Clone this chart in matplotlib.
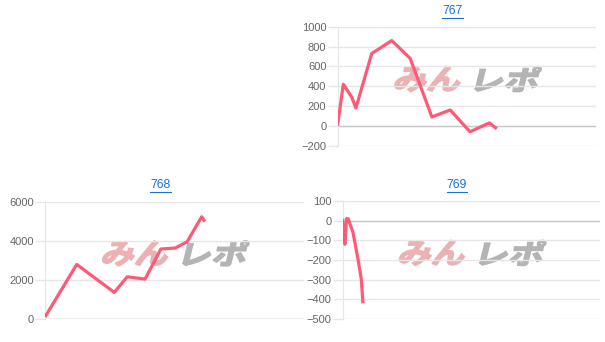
import matplotlib
matplotlib.use("Agg")
import matplotlib.pyplot as plt
import numpy as np
from matplotlib.textpath import TextPath
from matplotlib.font_manager import FontProperties
from matplotlib.patches import PathPatch
from matplotlib.transforms import Affine2D
from matplotlib.lines import Line2D

# game count on x, coin difference on y
games_767 = [0, 180, 440, 570, 1060, 1680, 2250, 2920, 3490, 4100, 4700, 4930]
diff_767 = [0, 420, 290, 180, 730, 860, 680, 90, 160, -60, 30, -30]

games_768 = [0, 980, 2140, 2540, 3090, 3580, 4020, 4390, 4840, 4940]
diff_768 = [100, 2790, 1360, 2160, 2040, 3580, 3630, 3950, 5230, 4980]

games_769 = [0, 40, 70, 120, 170, 320, 480, 580, 630]
diff_769 = [10, -100, -120, 10, 10, -60, -200, -300, -420]

titles = ["767", "768", "769"]
yticks_767 = [-200, 0, 200, 400, 600, 800, 1000]
yticks_768 = [0, 2000, 4000, 6000]
yticks_769 = [-500, -400, -300, -200, -100, 0, 100]

W, H = 605, 342
LINE = "#fe5a77"
GRID = "#e6e6e6"
ZERO = "#c8c8c8"

fig = plt.figure(figsize=(W / 100, H / 100), dpi=100)


def px_axes(l, t, r, b):
    return fig.add_axes([l / W, 1 - b / H, (r - l) / W, (b - t) / H])


def watermark(ax):
    # stylised "みんレポ" logo, skewed like italics
    fig.canvas.draw()
    bb = ax.get_window_extent()
    cx = (bb.x0 + bb.x1) / 2 / 100
    cy = (bb.y0 + (bb.y1 - bb.y0) * 0.56) / 100
    fp = FontProperties(family="Noto Sans CJK JP", weight="bold")
    parts = [("みん", "#ebb2b4", -0.72, -0.06), ("レポ", "#b4b4b4", 0.04, 0.72)]
    for txt, col, x0, x1 in parts:
        tp = TextPath((0, 0), txt, size=1, prop=fp)
        v = tp.vertices
        xmin, ymin = v.min(axis=0)
        xmax, ymax = v.max(axis=0)
        sx = (x1 - x0) / (xmax - xmin)
        sy = 0.25 / (ymax - ymin)
        tr = (Affine2D().translate(-xmin, -ymin).scale(sx, sy)
              .translate(0, -0.125).skew_deg(14, 0)
              .translate(cx + x0, cy) + fig.dpi_scale_trans)
        patch = PathPatch(tp, facecolor=col, edgecolor=col, lw=1.2,
                          transform=tr, zorder=1)
        fig.add_artist(patch)


def style(ax, yticks):
    ax.set_xlim(0, 8000)
    ax.set_ylim(yticks[0], yticks[-1])
    ax.set_yticks(yticks)
    ax.set_xticks([])
    ax.grid(axis="y", color=GRID, lw=1)
    ax.axhline(0, color=ZERO, lw=1, zorder=2)
    for s in ["top", "right", "bottom"]:
        ax.spines[s].set_visible(False)
    ax.spines["left"].set_color(GRID)
    ax.tick_params(axis="y", length=7, width=1, color=GRID, pad=1,
                   labelsize=8, labelcolor="#666666")
    for lab in ax.get_yticklabels():
        lab.set_fontfamily("Liberation Sans")
    ax.set_facecolor("none")
    ax.set_zorder(3)


def title(text, x, y):
    t = fig.text(x / W, 1 - y / H, text, ha="center", va="center",
                 color="#1a6fd6", fontsize=8.8, family="Liberation Sans")
    fig.canvas.draw()
    bb = t.get_window_extent()
    fig.add_artist(Line2D([bb.x0 / W, bb.x1 / W],
                          [(bb.y0 - 0.5) / H, (bb.y0 - 0.5) / H],
                          color="#1a6fd6", lw=0.8))


ax1 = px_axes(337.5, 26.7, 596, 145.7)
ax2 = px_axes(45, 201.7, 304, 319)
ax3 = px_axes(342.7, 201, 600, 319)

for ax, xs, ys, yt in [(ax1, games_767, diff_767, yticks_767),
                       (ax2, games_768, diff_768, yticks_768),
                       (ax3, games_769, diff_769, yticks_769)]:
    style(ax, yt)
    ax.plot(xs, ys, color=LINE, lw=2.3, solid_joinstyle="round",
            solid_capstyle="butt", zorder=4)
    watermark(ax)

title(titles[0], 452.5, 11.5)
title(titles[1], 160.5, 185)
title(titles[2], 457, 185)

fig.savefig("out.png", dpi=100)
